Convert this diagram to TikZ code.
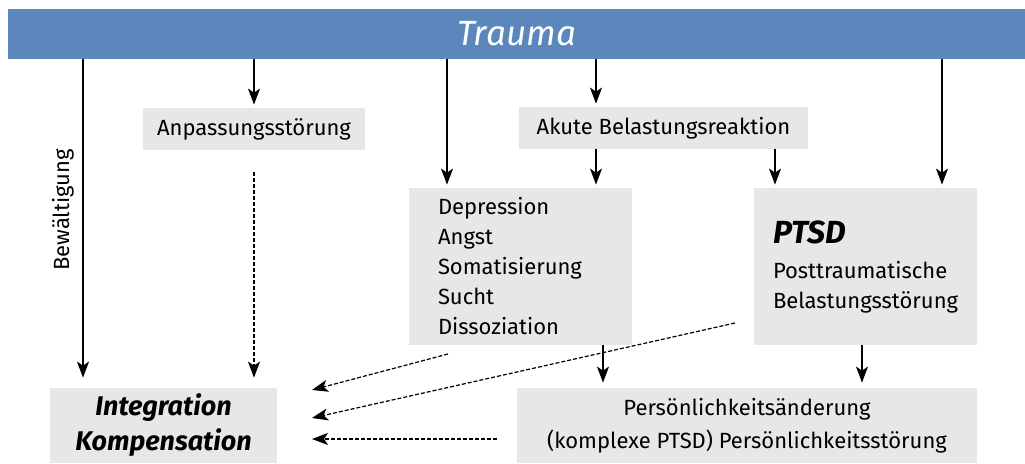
\documentclass[tikz,border=0pt]{standalone}
\usepackage{fontspec}
\setmainfont{Fira Sans}
\usetikzlibrary{arrows.meta}
\definecolor{barblue}{HTML}{5B87BD}
\definecolor{boxgray}{HTML}{E6E7E8}
\tikzset{
  box/.style={fill=boxgray, inner sep=0pt, font=\fontsize{11}{15}\selectfont},
  arr/.style={-{Stealth[length=8pt,width=6pt,inset=2pt]}, line width=0.6pt, shorten >=1.5pt},
  darr/.style={arr, dash pattern=on 2pt off 1pt, shorten >=0pt},
}

\begin{document}
\begin{tikzpicture}[x=0.5pt,y=-0.5pt]
  \useasboundingbox (0,0) rectangle (1025,463);

  % top bar
  \node (trauma) [fill=barblue, minimum width=509pt, minimum height=25pt, inner sep=0pt,
    text=white, font=\fontsize{17.5}{20}\selectfont\itshape] at (516.5,34) {Trauma};

  % boxes
  \node (anp) [box, minimum width=111pt, minimum height=21pt] at (254,129) {Anpassungsstörung};
  \node (akute) [box, minimum width=144.5pt, minimum height=21pt] at (663.5,128) {Akute Belastungsreaktion};
  \node (dep) [box, minimum width=111.5pt, minimum height=78.5pt, text width=82.5pt,
    inner xsep=14.5pt, align=left] at (520.5,266.5)
    {Depression\\Angst\\Somatisierung\\Sucht\\Dissoziation};
  \node (ptsd) [box, minimum width=111.5pt, minimum height=78.5pt, text width=92.5pt,
    inner xsep=9.5pt, align=left] at (865.5,266.5)
    {{\fontsize{16}{18}\selectfont\bfseries\itshape PTSD}\\[2.5pt]Posttraumatische\\Belastungsstörung};
  \node (integ) [box, minimum width=113.5pt, minimum height=37.5pt, align=center,
    font=\fontsize{13.5}{17.5}\selectfont\bfseries\itshape] at (163.5,425.5) {Integration\\Kompensation};
  \node (pers) [box, minimum width=230pt, minimum height=37.5pt, align=center,
    font=\fontsize{11}{16.5}\selectfont] at (747,425.5)
    {Persönlichkeitsänderung\\(komplexe PTSD) Persönlichkeitsstörung};
  \node (bew) [rotate=90, font=\fontsize{11}{13}\selectfont] at (63,210) {Bewältigung};

  % arrows from the bar
  \coordinate (xbew) at (83,0);
  \draw[arr, shorten >=5pt] (trauma.south -| xbew) -- (integ.north -| xbew);
  \foreach \xx/\target in {254/anp, 447/dep, 596/akute, 942/ptsd} {
    \coordinate (c) at (\xx,0);
    \draw[arr] (trauma.south -| c) -- (\target.north -| c);
  }

  % arrows between boxes
  \coordinate (xa) at (596,0);
  \coordinate (xb) at (775,0);
  \coordinate (xc) at (603,0);
  \coordinate (xd) at (862,0);
  \draw[arr] (akute.south -| xa) -- (dep.north -| xa);
  \draw[arr] (akute.south -| xb) -- (ptsd.north -| xb);
  \draw[arr, shorten >=2.5pt] (dep.south -| xc) -- (pers.north -| xc);
  \draw[arr, shorten >=2.5pt] (ptsd.south -| xd) -- (pers.north -| xd);

  % dashed arrows to integration
  \draw[darr, shorten <=11pt, shorten >=5pt] (anp.south) -- (integ.north -| anp.south);
  \coordinate (s1) at (448,354);
  \coordinate (s2) at (735,323);
  \coordinate (s3) at (497,439);
  \coordinate (t1) at (312,390);
  \coordinate (t2) at (312,418);
  \coordinate (t3) at (312,439);
  \draw[darr] (s1) -- (t1);
  \draw[darr] (s2) -- (t2);
  \draw[darr] (s3) -- (t3);
\end{tikzpicture}
\end{document}
